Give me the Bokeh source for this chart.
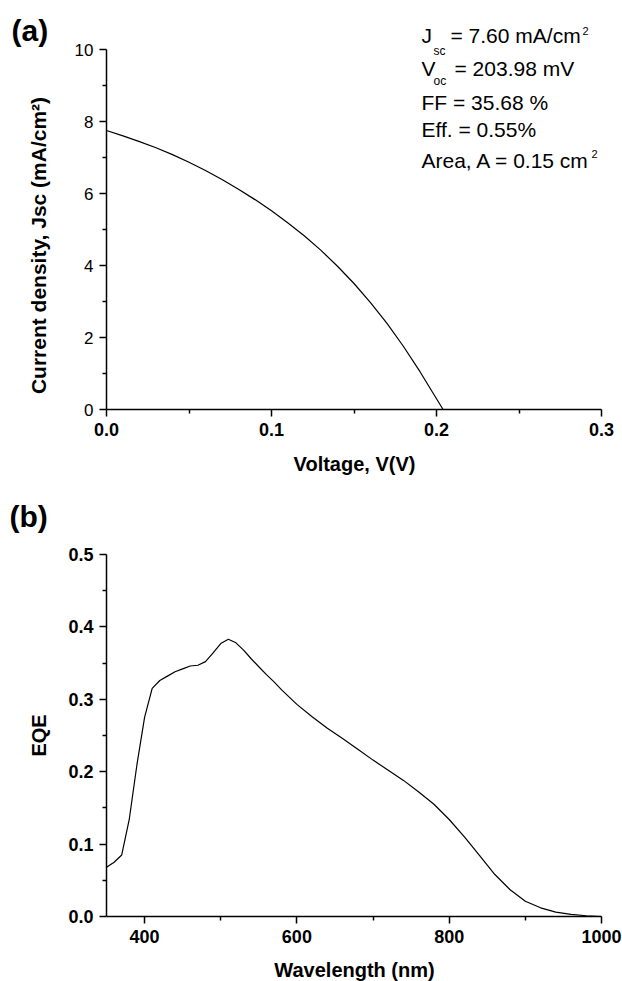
import math
from bokeh.plotting import figure
from bokeh.models import Range1d, FixedTicker, Label, NumeralTickFormatter
from bokeh.layouts import column
from bokeh.embed import file_html
from bokeh.resources import INLINE

# ---- data: J-V curve (panel a) ----
voltage = [0.0, 0.01, 0.02, 0.03, 0.04, 0.05, 0.06, 0.07, 0.08, 0.09, 0.10,
           0.11, 0.12, 0.13, 0.14, 0.15, 0.16, 0.17, 0.18, 0.19, 0.20, 0.204]
current = [7.75, 7.60, 7.44, 7.27, 7.08, 6.87, 6.64, 6.39, 6.12, 5.83, 5.52,
           5.18, 4.82, 4.42, 3.98, 3.50, 2.97, 2.39, 1.75, 1.05, 0.30, 0.0]

# ---- data: EQE spectrum (panel b) ----
wavelength = [350, 360, 370, 380, 390, 400, 410, 420, 430, 440, 450, 460, 470,
              480, 490, 500, 510, 520, 530, 540, 550, 560, 570, 580, 600, 620,
              640, 660, 680, 700, 720, 740, 760, 780, 800, 820, 840, 860, 880,
              900, 920, 940, 960, 980, 1000]
eqe = [0.068, 0.075, 0.085, 0.135, 0.210, 0.275, 0.315, 0.326, 0.332, 0.338,
       0.342, 0.346, 0.347, 0.352, 0.364, 0.377, 0.383, 0.378, 0.368, 0.356,
       0.345, 0.334, 0.324, 0.313, 0.293, 0.276, 0.260, 0.246, 0.231, 0.216,
       0.202, 0.188, 0.172, 0.155, 0.134, 0.110, 0.084, 0.058, 0.037, 0.021,
       0.012, 0.006, 0.003, 0.001, 0.000]

# ---- axis extents and ticks ----
a_x_lim = (0.0, 0.3)
a_y_lim = (0.0, 10.0)
b_x_lim = (350.0, 1000.0)
b_y_lim = (0.0, 0.5)
a_x_major = [0.0, 0.1, 0.2, 0.3]
a_x_minor = [0.05, 0.15, 0.25]
a_y_major = [0, 2, 4, 6, 8, 10]
a_y_minor = [1, 3, 5, 7, 9]
b_x_major = [400, 600, 800, 1000]
b_x_minor = [500, 700, 900]
b_y_major = [0.0, 0.1, 0.2, 0.3, 0.4, 0.5]
b_y_minor = [0.05, 0.15, 0.25, 0.35, 0.45]

FONT = "Liberation Sans"
W = 622

# page layout (pixels): axis box of each panel
AX_L, AX_R = 106, 601
A_TOP, A_BOT, A_H, A_OFF = 49, 409, 490, 0
B_TOP, B_BOT, B_H, B_OFF = 554, 916, 491, 490


def make_conv(xlim, ylim, top, bot):
    def conv(px, py):
        x = xlim[0] + (px - AX_L) * (xlim[1] - xlim[0]) / (AX_R - AX_L)
        y = ylim[0] + (bot - py) * (ylim[1] - ylim[0]) / (bot - top)
        return x, y
    return conv


def make_panel(xlim, ylim, top, bot, h, off):
    conv = make_conv(xlim, ylim, top, bot)
    x0, y1 = conv(0, off)
    x1, y0 = conv(W, off + h)
    p = figure(width=W, height=h, output_backend="svg", toolbar_location=None,
               x_range=Range1d(x0, x1), y_range=Range1d(y0, y1),
               min_border=0, min_border_left=0, min_border_right=0,
               min_border_top=0, min_border_bottom=0)
    p.background_fill_color = "white"
    p.border_fill_color = "white"
    p.outline_line_color = None
    p.grid.visible = False
    p.xaxis[0].fixed_location = ylim[0]
    p.yaxis[0].fixed_location = xlim[0]
    p.xaxis[0].bounds = xlim
    p.yaxis[0].bounds = ylim
    return p, conv


def style_axes(p, xbold, ybold):
    for ax, bold in ((p.xaxis[0], xbold), (p.yaxis[0], ybold)):
        ax.axis_line_width = 1.5
        ax.axis_line_color = "black"
        ax.major_tick_line_width = 1.5
        ax.minor_tick_line_width = 1.5
        ax.major_tick_line_color = "black"
        ax.minor_tick_line_color = "black"
        ax.major_tick_in = 0
        ax.major_tick_out = 7
        ax.minor_tick_in = 0
        ax.minor_tick_out = 4
        ax.major_label_text_font = FONT
        ax.major_label_text_color = "black"
        ax.major_label_text_font_style = "bold" if bold else "normal"
        ax.major_label_text_font_size = "18px" if bold else "17px"
        ax.major_label_standoff = 6
        ax.axis_label = None


def add_text(p, conv, px, py, txt, size, bold=False, align="left", angle=0.0):
    # (px, py): left/centre x and vertical centre of the text, page pixels
    x, y = conv(px, py)
    p.add_layout(Label(x=x, y=y, text=txt, text_font=FONT,
                       text_font_size=size, text_color="black",
                       text_font_style="bold" if bold else "normal",
                       text_baseline="middle", text_align=align, angle=angle))


# ---------------- panel (a) ----------------
pa, ca = make_panel(a_x_lim, a_y_lim, A_TOP, A_BOT, A_H, A_OFF)
pa.line(voltage, current, line_color="black", line_width=1.2)
style_axes(pa, True, False)
pa.xaxis[0].ticker = FixedTicker(ticks=a_x_major, minor_ticks=a_x_minor)
pa.yaxis[0].ticker = FixedTicker(ticks=a_y_major, minor_ticks=a_y_minor)
pa.xaxis[0].formatter = NumeralTickFormatter(format="0.0")
pa.yaxis[0].formatter = NumeralTickFormatter(format="0")

add_text(pa, ca, 11, 30, "(a)", "30px", True)
add_text(pa, ca, 354, 463, "Voltage, V(V)", "20px", True, "center")
add_text(pa, ca, 38, 245, "Current density, Jsc (mA/cm²)", "21px", True,
         "center", math.pi / 2)
add_text(pa, ca, 421, 35, "J", "21px")
add_text(pa, ca, 433, 50, "sc", "12px")
add_text(pa, ca, 450, 35, "= 7.60 mA/cm", "21px")
add_text(pa, ca, 582, 30, "2", "11px")
add_text(pa, ca, 421, 68, "V", "21px")
add_text(pa, ca, 433, 80, "oc", "12px")
add_text(pa, ca, 454, 68, "= 203.98 mV", "21px")
add_text(pa, ca, 421, 102, "FF = 35.68 %", "21px")
add_text(pa, ca, 421, 129, "Eff. = 0.55%", "21px")
add_text(pa, ca, 421, 160, "Area, A = 0.15 cm", "21px")
add_text(pa, ca, 591, 153, "2", "11px")

# ---------------- panel (b) ----------------
pb, cb = make_panel(b_x_lim, b_y_lim, B_TOP, B_BOT, B_H, B_OFF)
pb.line(wavelength, eqe, line_color="black", line_width=1.2)
style_axes(pb, True, True)
pb.xaxis[0].ticker = FixedTicker(ticks=b_x_major, minor_ticks=b_x_minor)
pb.yaxis[0].ticker = FixedTicker(ticks=b_y_major, minor_ticks=b_y_minor)
pb.xaxis[0].formatter = NumeralTickFormatter(format="0")
pb.yaxis[0].formatter = NumeralTickFormatter(format="0.0")

add_text(pb, cb, 9, 516, "(b)", "30px", True)
add_text(pb, cb, 354, 969, "Wavelength (nm)", "20px", True, "center")
add_text(pb, cb, 38, 735, "EQE", "20px", True, "center", math.pi / 2)

layout = column(pa, pb)
open("out.html", "w").write(file_html(layout, INLINE))
